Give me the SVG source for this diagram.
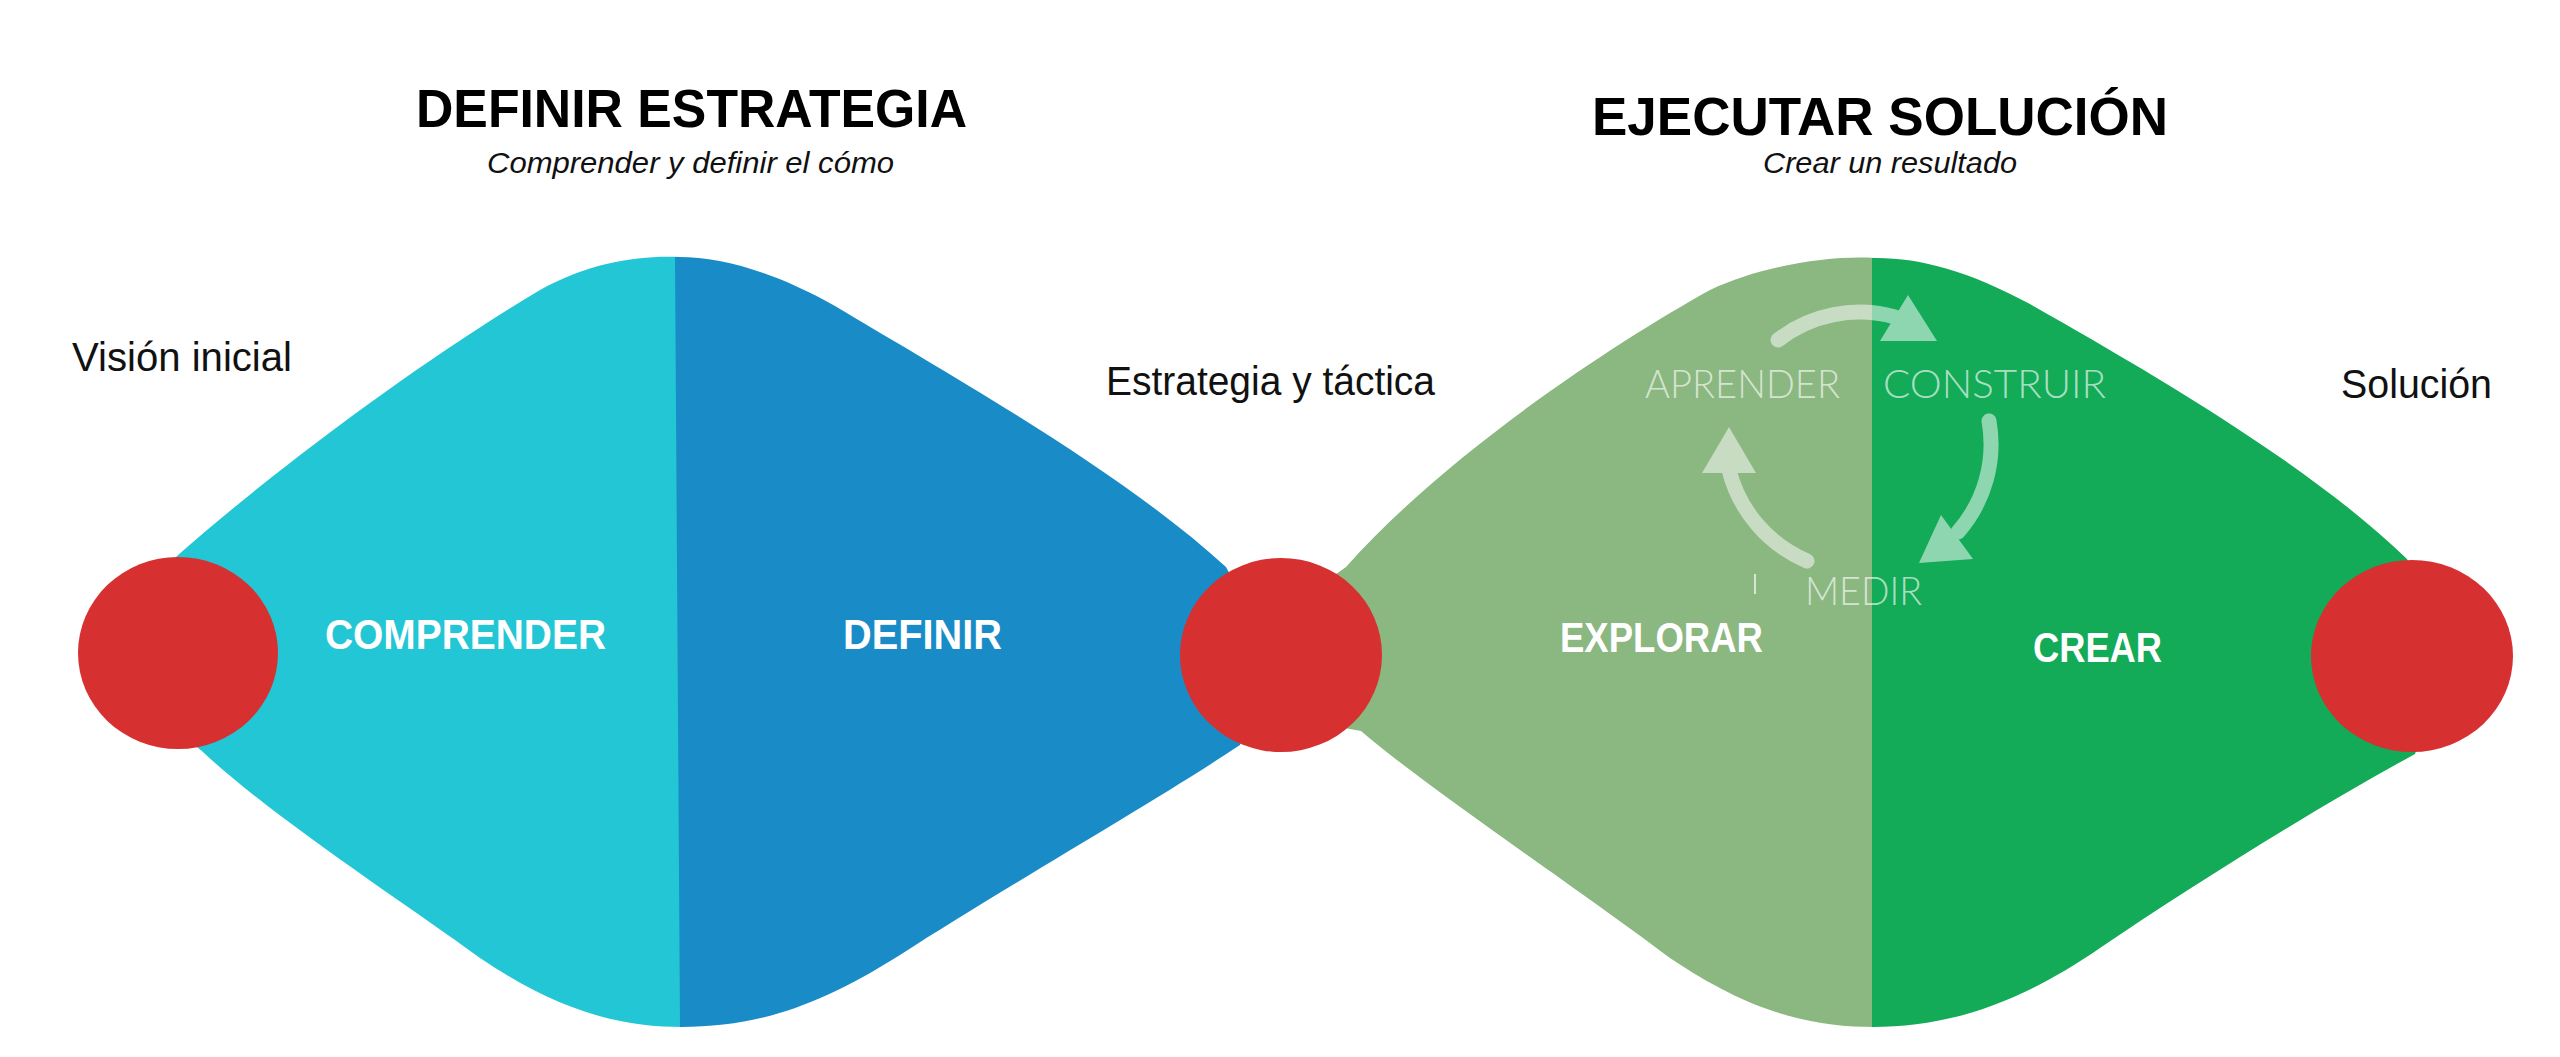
<svg xmlns="http://www.w3.org/2000/svg" width="2560" height="1057" viewBox="0 0 2560 1057">
<style>
.title{font-family:"Liberation Sans",Arial,sans-serif;font-weight:bold;fill:#000;}
.sub{font-family:"Liberation Sans",Arial,sans-serif;font-style:italic;fill:#111;font-size:29px;}
.lbl{font-family:"Liberation Sans",Arial,sans-serif;fill:#111;font-size:40px;}
.phase{font-family:"Liberation Sans",Arial,sans-serif;font-weight:bold;fill:#fff;font-size:42px;}
.cyc{font-family:Lato,"Liberation Sans",sans-serif;font-weight:300;fill:#fff;fill-opacity:0.65;font-size:39px;}
.red{fill:#D63031;}
</style>
<rect width="2560" height="1057" fill="#fff"/>

<g id="titles">
<text class="title" x="416" y="127" font-size="54" textLength="551" lengthAdjust="spacingAndGlyphs">DEFINIR ESTRATEGIA</text>
<text class="sub" x="487" y="173" textLength="407" lengthAdjust="spacingAndGlyphs">Comprender y definir el cómo</text>
<text class="title" x="1592" y="135" font-size="54" textLength="576" lengthAdjust="spacingAndGlyphs">EJECUTAR SOLUCIÓN</text>
<text class="sub" x="1763" y="173" textLength="254" lengthAdjust="spacingAndGlyphs">Crear un resultado</text>
</g>

<g id="shape-estrategia">
<path id="comprender" fill="#23C6D4" d="M681,257 C640,255 590,262 540,290 C430,355 280,465 177,556 L140,600 L140,700 L203,752 C270,815 400,900 480,958 C560,1012 620,1027 684,1027 Z"/>
<path id="definir" fill="#198CC8" d="M675,257 C720,256 775,272 835,306 C950,375 1120,470 1226,567 L1270,650 L1240,745 C1150,805 1000,890 900,955 C820,1005 760,1027 680,1027 Z"/>
<text class="phase" x="325" y="649" textLength="281" lengthAdjust="spacingAndGlyphs">COMPRENDER</text>
<text class="phase" x="843" y="649" textLength="159" lengthAdjust="spacingAndGlyphs">DEFINIR</text>
</g>

<g id="shape-solucion">
<path id="explorar" fill="#8BB781" d="M1875,258 C1830,255 1760,266 1710,290 C1620,340 1450,450 1346,567 L1300,600 L1300,720 L1361,731 C1430,790 1580,890 1670,958 C1750,1012 1810,1027 1875,1027 Z"/>
<path id="crear" fill="#13AA58" d="M1872,258 C1917,257 1967,270 2030,304 C2150,372 2310,465 2407,559 L2450,650 L2415,754 C2330,800 2200,880 2100,948 C2020,1003 1950,1027 1872,1027 Z"/>
<text class="phase" x="1560" y="652" textLength="203" lengthAdjust="spacingAndGlyphs">EXPLORAR</text>
<text class="phase" x="2033" y="662" textLength="129" lengthAdjust="spacingAndGlyphs">CREAR</text>
</g>

<g id="cycle">
<g opacity="0.52" fill="#fff" stroke="#fff">
<path fill="none" stroke-width="15" stroke-linecap="round" d="M1778,340 A133,133 0 0 1 1895,317"/>
<polygon stroke="none" points="1908,295 1880,341 1937,341"/>
<path fill="none" stroke-width="15" stroke-linecap="round" d="M1989,421 A133,133 0 0 1 1958,532"/>
<polygon stroke="none" points="1941,515 1973,559 1919,563"/>
<path fill="none" stroke-width="15" stroke-linecap="round" d="M1807,561 A135,135 0 0 1 1729,470"/>
<polygon stroke="none" points="1729,427 1702,473 1756,473"/>
</g>
<text class="cyc" x="1645" y="398" textLength="195" lengthAdjust="spacingAndGlyphs">APRENDER</text>
<text class="cyc" x="1883" y="398" textLength="223" lengthAdjust="spacingAndGlyphs">CONSTRUIR</text>
<text class="cyc" x="1805" y="605" textLength="117" lengthAdjust="spacingAndGlyphs">MEDIR</text>
<line x1="1755" y1="574" x2="1755" y2="594" stroke="#fff" stroke-opacity="0.65" stroke-width="2"/>
</g>

<g id="node-vision">
<ellipse class="red" cx="178" cy="653" rx="100" ry="96"/>
<text class="lbl" x="72" y="371" textLength="220" lengthAdjust="spacingAndGlyphs">Visión inicial</text>
</g>
<g id="node-estrategia">
<ellipse class="red" cx="1281" cy="655" rx="101" ry="97"/>
<text class="lbl" x="1106" y="395" textLength="329" lengthAdjust="spacingAndGlyphs">Estrategia y táctica</text>
</g>
<g id="node-solucion">
<ellipse class="red" cx="2412" cy="656" rx="101" ry="96"/>
<text class="lbl" x="2341" y="398" textLength="151" lengthAdjust="spacingAndGlyphs">Solución</text>
</g>
</svg>
